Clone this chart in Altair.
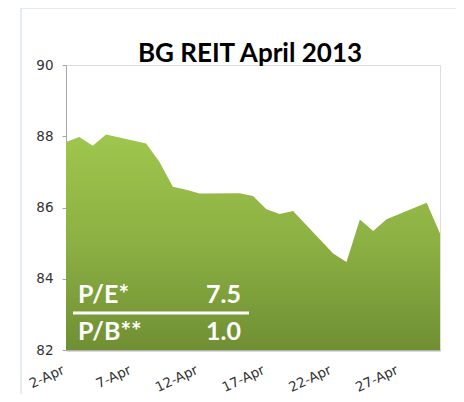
import altair as alt
import pandas as pd

# April 2013 trading days and closing values
days = [2, 3, 4, 5, 8, 9, 10, 11, 12, 15, 16, 17, 18, 19, 22, 23, 24, 25, 26, 29, 30]
values = [87.84, 87.98, 87.73, 88.05, 87.80, 87.28, 86.58, 86.50, 86.39, 86.40,
          86.32, 85.95, 85.82, 85.90, 84.71, 84.47, 85.66, 85.34, 85.67, 86.13, 85.27]
tick_days = [2, 7, 12, 17, 22, 27]
y_ticks = [82, 84, 86, 88, 90]
y_min = 82
title_text = "BG REIT April 2013"
ratio_names = ["P/E*", "P/B**"]
ratio_values = ["7.5", "1.0"]

W, H = 374, 285
df = pd.DataFrame({"day": days, "value": values})

x = alt.X("day:Q", scale=alt.Scale(domain=[2, 30], nice=False, zero=False),
          axis=alt.Axis(values=tick_days, labelExpr="datum.value + '-Apr'", title=None,
                        ticks=False, grid=False, labelAngle=-25, labelFont="DejaVu Sans",
                        labelFontSize=13.5, labelColor="#333333", labelPadding=19,
                        labelAlign="right", labelBaseline="middle", labelOffset=-3,
                        domainColor="#b3b3b3", domainWidth=2, labelFlush=False))
y = alt.Y("value:Q", scale=alt.Scale(domain=[82, 90], nice=False, zero=False),
          axis=alt.Axis(values=y_ticks, title=None, grid=False, tickSize=4,
                        tickColor="#a6a6a6", domainColor="#a6a6a6", labelFont="DejaVu Sans",
                        labelFontSize=13.5, labelColor="#333333", labelPadding=9))

area = alt.Chart(df).mark_area(
    color=alt.Gradient(gradient="linear",
                       stops=[alt.GradientStop(color="#9fc64d", offset=0),
                              alt.GradientStop(color="#8db043", offset=0.5),
                              alt.GradientStop(color="#6f8f33", offset=1)],
                       x1=1, x2=1, y1=0, y2=1)
).encode(x=x, y=y, y2=alt.Y2(datum=y_min))

base = alt.Chart(pd.DataFrame({"a": [0]}))

title = base.mark_text(text=title_text, font="Lato", fontWeight="bold", fontSize=26,
                       color="#000000", align="center", baseline="alphabetic").encode(
    x=alt.value(184), y=alt.value(-3))

pe_name = base.mark_text(text=ratio_names[0], font="Lato", fontWeight="bold", fontSize=25,
                         color="white", align="left", baseline="alphabetic").encode(
    x=alt.value(12), y=alt.value(238))
pe_val = base.mark_text(text=ratio_values[0], font="Lato", fontWeight="bold", fontSize=25,
                        color="white", align="right", baseline="alphabetic").encode(
    x=alt.value(175), y=alt.value(238))
pb_name = base.mark_text(text=ratio_names[1], font="Lato", fontWeight="bold", fontSize=25,
                         color="white", align="left", baseline="alphabetic").encode(
    x=alt.value(12), y=alt.value(275))
pb_val = base.mark_text(text=ratio_values[1], font="Lato", fontWeight="bold", fontSize=25,
                        color="white", align="right", baseline="alphabetic").encode(
    x=alt.value(175), y=alt.value(275))
sep = base.mark_rule(color="white", strokeWidth=3).encode(
    x=alt.value(7), x2=alt.value(183), y=alt.value(248))

frame_left = base.mark_rule(color="#c9d8ec", strokeWidth=1).encode(
    x=alt.value(-45), y=alt.value(-57), y2=alt.value(329))
frame_top = base.mark_rule(color="#c9d8ec", strokeWidth=1).encode(
    x=alt.value(-45), x2=alt.value(390), y=alt.value(-57))

chart = alt.layer(area, frame_left, frame_top, title, sep, pe_name, pe_val, pb_name, pb_val).properties(
    width=W, height=H,
    autosize=alt.AutoSizeParams(type="none"),
    padding={"left": 58, "top": 57, "right": 16, "bottom": 44},
).configure_view(stroke=None).configure(background="white")

chart.save("out.html", embed_options={"renderer": "svg", "actions": False})
